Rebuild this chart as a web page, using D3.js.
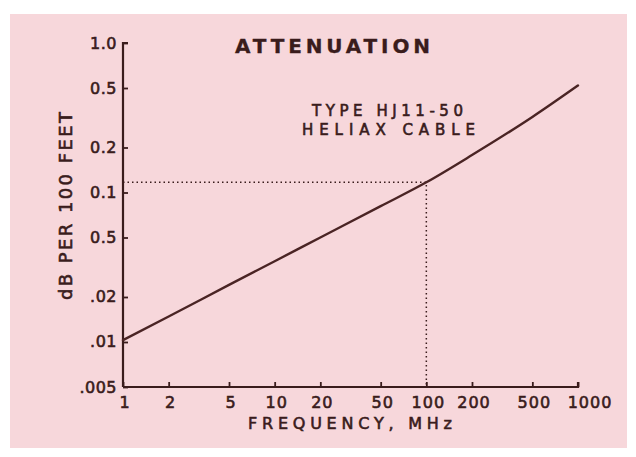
<!DOCTYPE html>
<html>
<head>
<meta charset="utf-8">
<script src="https://cdn.jsdelivr.net/npm/d3@7"></script>
<style>
  body { margin: 0; background: #fff; }
  svg text {
    font-family: "DejaVu Sans", "Liberation Sans", sans-serif;
    fill: #3a1c1c;
    stroke: #3a1c1c;
    stroke-width: 0.6px;
  }
</style>
</head>
<body>
<div id="chart"></div>
<script>
// attenuation (MHz -> dB per 100 ft)
const freqs = [1, 2, 5, 10, 20, 50, 100, 200, 500, 1000];
const atten = [0.0103, 0.0148, 0.0241, 0.0347, 0.050, 0.081, 0.117, 0.178, 0.32, 0.52];

const xTicks = [1, 2, 5, 10, 20, 50, 100, 200, 500, 1000];
const xTickLabels = ['1', '2', '5', '10', '20', '50', '100', '200', '500', '1000'];
const yTicks = [1, 0.5, 0.2, 0.1, 0.05, 0.02, 0.01, 0.005];
// labels as printed (the 0.05 line really says "0.5")
const yTickLabels = ['1.0', '0.5', '0.2', '0.1', '0.5', '.02', '.01', '.005'];

const refFreq = 100;
const refAtten = 0.117;

const width = 636,
  height = 457;
const ink = '#3a1c1c';

const svg = d3
  .select('#chart')
  .append('svg')
  .attr('width', width)
  .attr('height', height);

// paper
svg.append('rect')
  .attr('x', 10).attr('y', 14)
  .attr('width', 617).attr('height', 434)
  .attr('fill', '#f7d7db');

const x = d3.scaleLog().domain([1, 1000]).range([123, 578]);
const y = d3.scaleLog().domain([0.005, 1]).range([387, 43]);

// dotted guides at 100 MHz
svg.append('path')
  .attr('d', `M${x(1)},${y(refAtten)}H${x(refFreq)}V${y(0.005)}`)
  .attr('fill', 'none')
  .attr('stroke', ink)
  .attr('stroke-width', 1.5)
  .attr('stroke-dasharray', '1.5,3');

// axes
const xAxis = svg.append('g')
  .attr('transform', `translate(0,${y(0.005)})`)
  .call(d3.axisTop(x).tickValues(xTicks).tickSize(5).tickFormat(''));
const yAxis = svg.append('g')
  .attr('transform', `translate(${x(1)},0)`)
  .call(d3.axisRight(y).tickValues(yTicks).tickSize(5).tickFormat(''));

[xAxis, yAxis].forEach(g => {
  g.select('.domain').attr('stroke', ink).attr('stroke-width', 2.2);
  g.selectAll('.tick line').attr('stroke', ink).attr('stroke-width', 1.8);
});
xAxis.select('.domain').attr('d', `M${x(1)},0H${x(1000)}V-5`);
yAxis.select('.domain').attr('d', `M5,${y(1)}H0V${y(0.005)}`);

// tick labels
svg.append('g')
  .selectAll('text')
  .data(xTicks)
  .join('text')
  .attr('x', d => x(d) + (d === 1000 ? 12 : 2))
  .attr('y', 408)
  .attr('text-anchor', 'middle')
  .style('font-size', '16px')
  .style('letter-spacing', '1px')
  .text((d, i) => xTickLabels[i]);

svg.append('g')
  .selectAll('text')
  .data(yTicks)
  .join('text')
  .attr('x', 117)
  .attr('y', d => y(d) + 5.5)
  .attr('text-anchor', 'end')
  .style('font-size', '16px')
  .style('letter-spacing', '0.5px')
  .text((d, i) => yTickLabels[i]);

// curve
const line = d3.line()
  .x((d, i) => x(freqs[i]))
  .y(d => y(d))
  .curve(d3.curveMonotoneX);

svg.append('path')
  .datum(atten)
  .attr('d', line)
  .attr('fill', 'none')
  .attr('stroke', '#4a2424')
  .attr('stroke-width', 2.4)
  .attr('stroke-linecap', 'round');

// titles
svg.append('text')
  .attr('x', 235).attr('y', 53)
  .attr('textLength', 195).attr('lengthAdjust', 'spacing')
  .style('font-size', '20px')
  .style('font-weight', 'bold')
  .style('stroke-width', '0.3px')
  .text('ATTENUATION');

svg.append('text')
  .attr('x', 312).attr('y', 116)
  .attr('textLength', 151).attr('lengthAdjust', 'spacing')
  .style('font-size', '15px')
  .text('TYPE HJ11-50');

svg.append('text')
  .attr('x', 302).attr('y', 135)
  .attr('textLength', 173).attr('lengthAdjust', 'spacing')
  .style('font-size', '15px')
  .text('HELIAX CABLE');

svg.append('text')
  .attr('x', 248).attr('y', 429)
  .attr('textLength', 204).attr('lengthAdjust', 'spacing')
  .style('font-size', '16px')
  .text('FREQUENCY, MHz');

svg.append('text')
  .attr('transform', 'translate(72,300) rotate(-90)')
  .attr('textLength', 188).attr('lengthAdjust', 'spacing')
  .style('font-size', '18px')
  .text('dB PER 100 FEET');
</script>
</body>
</html>
